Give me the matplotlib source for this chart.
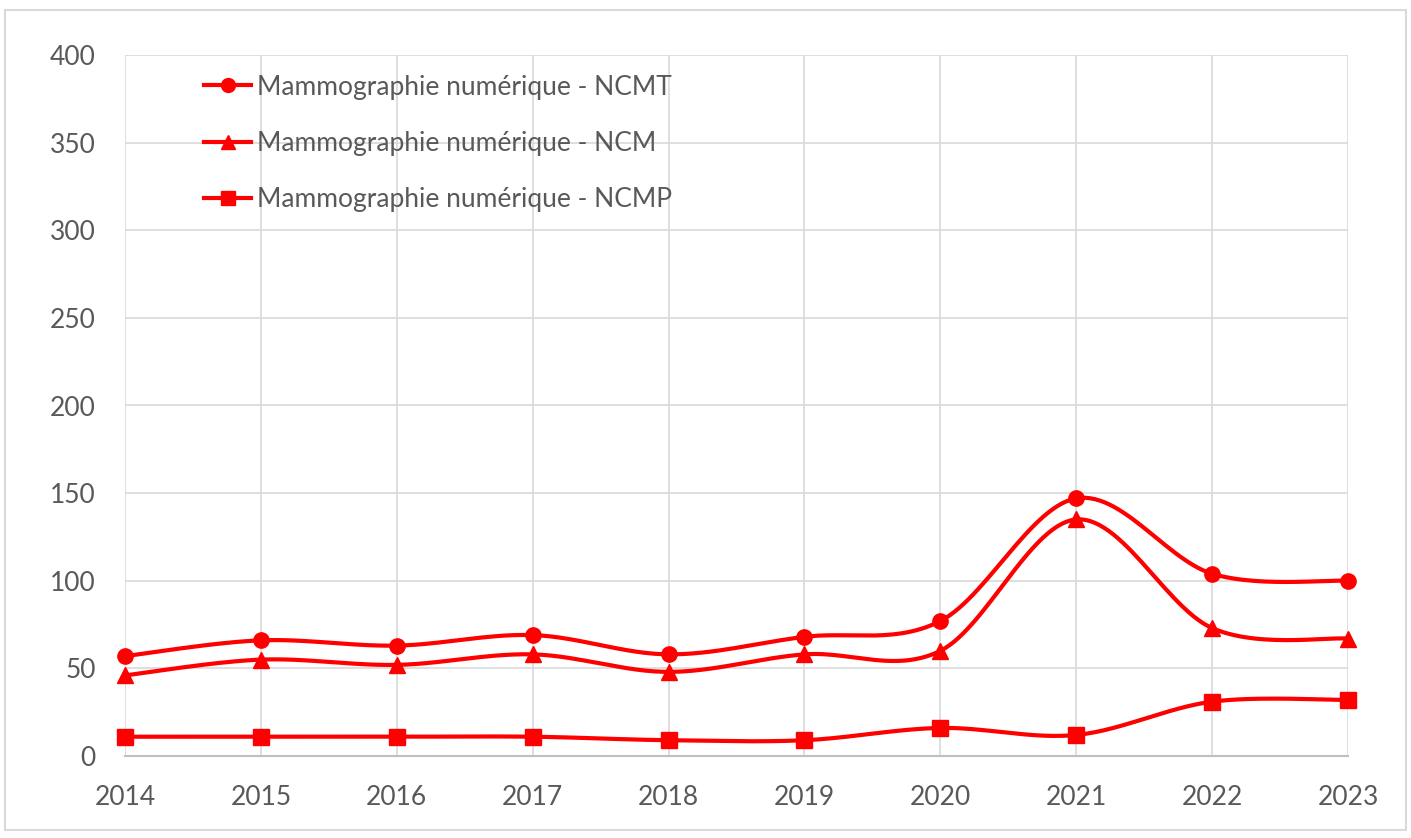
import numpy as np
import matplotlib.pyplot as plt
from matplotlib.patches import Rectangle

years = [2014, 2015, 2016, 2017, 2018, 2019, 2020, 2021, 2022, 2023]
ncmt = [57, 66, 63, 69, 58, 68, 77, 147, 104, 100]
ncm = [46, 55, 52, 58, 48, 58, 60, 135, 73, 67]
ncmp = [11, 11, 11, 11, 9, 9, 16, 12, 31, 32]

labels = ["Mammographie numérique - NCMT",
          "Mammographie numérique - NCM",
          "Mammographie numérique - NCMP"]
markers = ["o", "^", "s"]
y_ticks = [0, 50, 100, 150, 200, 250, 300, 350, 400]

RED = "#FF0000"
TEXT = "#595959"
GRID = "#D9D9D9"

plt.rcParams['font.family'] = ['Lato', 'DejaVu Sans']


def smooth(xs, ys, n=30):
    # Excel-like smoothed line: Bezier segments with Catmull-Rom tangents
    xs = np.asarray(xs, float)
    ys = np.asarray(ys, float)
    px = np.concatenate([[xs[0]], xs, [xs[-1]]])
    py = np.concatenate([[ys[0]], ys, [ys[-1]]])
    out_x, out_y = [], []
    t = np.linspace(0, 1, n)
    for i in range(1, len(px) - 2):
        p0 = np.array([px[i], py[i]])
        p3 = np.array([px[i + 1], py[i + 1]])
        p1 = p0 + (np.array([px[i + 1], py[i + 1]]) - np.array([px[i - 1], py[i - 1]])) / 6
        p2 = p3 - (np.array([px[i + 2], py[i + 2]]) - np.array([px[i], py[i]])) / 6
        b = ((1 - t) ** 3)[:, None] * p0 + (3 * (1 - t) ** 2 * t)[:, None] * p1 \
            + (3 * (1 - t) * t ** 2)[:, None] * p2 + (t ** 3)[:, None] * p3
        out_x.extend(b[:, 0])
        out_y.extend(b[:, 1])
    return out_x, out_y


fig = plt.figure(figsize=(14.11, 8.38), dpi=100)
ax = fig.add_axes([125 / 1411, 1 - 756 / 838, (1348 - 125) / 1411, (756 - 55) / 838])

handles = []
for vals, mk, lab in zip([ncmt, ncm, ncmp], markers, labels):
    sx, sy = smooth(years, vals)
    ax.plot(sx, sy, color=RED, linewidth=3, solid_capstyle='round', zorder=3,
            clip_on=False)
    ax.plot(years, vals, linestyle='none', marker=mk, markersize=11,
            color=RED, zorder=4, clip_on=False)
    h, = ax.plot([], [], color=RED, linewidth=3, marker=mk, markersize=10, label=lab)
    handles.append(h)

ax.set_xlim(years[0], years[-1])
ax.set_ylim(0, 400)
ax.set_xticks(years)
ax.set_yticks(y_ticks)
ax.grid(True, color=GRID, linewidth=1.2)
ax.set_axisbelow(True)
for side in ["top", "right", "left"]:
    ax.spines[side].set_visible(False)
ax.spines["bottom"].set_color("#BFBFBF")
ax.spines["bottom"].set_linewidth(1.5)
ax.tick_params(length=0, labelsize=19, colors=TEXT)
ax.tick_params(axis='x', pad=21)
ax.tick_params(axis='y', pad=21)

leg = ax.legend(handles=handles, loc='upper left', bbox_to_anchor=(0.065, 0.972),
                frameon=False, fontsize=19, labelcolor=TEXT, handlelength=1.75,
                handletextpad=0.25, labelspacing=1.18, borderaxespad=0, borderpad=0)

fig.patches.append(Rectangle((5 / 1411, 8 / 838), 1401 / 1411, 820 / 838,
                             transform=fig.transFigure, fill=False,
                             edgecolor=GRID, linewidth=1.5))

fig.savefig("out.png", dpi=100, facecolor="white")
